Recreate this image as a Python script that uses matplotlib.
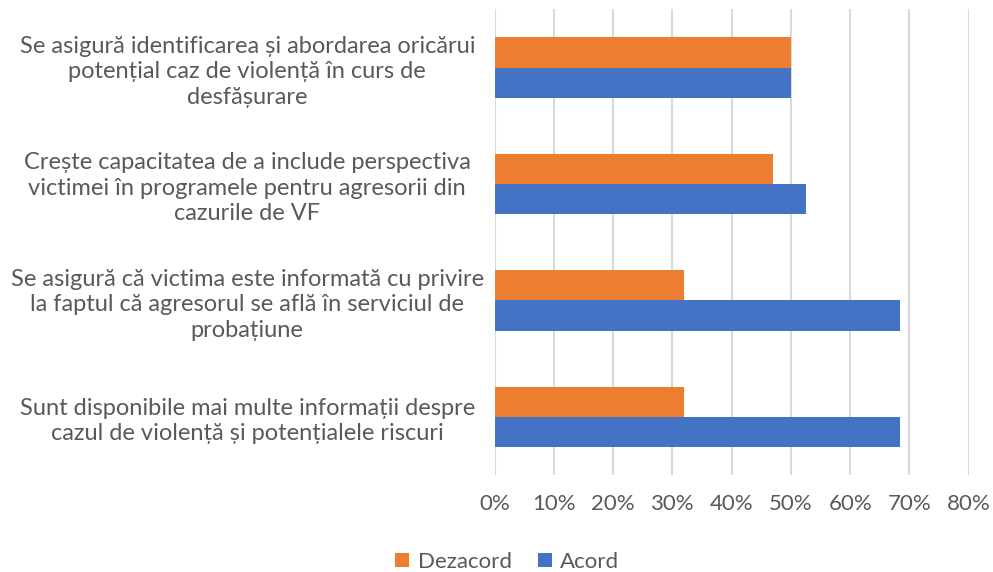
import numpy as np
import matplotlib.pyplot as plt
from matplotlib.ticker import PercentFormatter

categories = [
    'Se asigură identificarea și abordarea oricărui\npotențial caz de violență în curs de\ndesfășurare',
    'Crește capacitatea de a include perspectiva\nvictimei în programele pentru agresorii din\ncazurile de VF',
    'Se asigură că victima este informată cu privire\nla faptul că agresorul se află în serviciul de\nprobațiune',
    'Sunt disponibile mai multe informații despre\ncazul de violență și potențialele riscuri',
]
dezacord = [50.0, 47.0, 32.0, 32.0]
acord = [50.0, 52.5, 68.4, 68.4]
xticks = [0, 10, 20, 30, 40, 50, 60, 70, 80]

plt.rcParams['font.family'] = ['Lato', 'DejaVu Sans']
txt = '#595959'

fig = plt.figure(figsize=(9.93, 5.72), dpi=100)
ax = fig.add_axes([0.498, 0.1696, 0.4775, 0.8138])

y = np.arange(len(categories))
h = 0.26
ax.barh(y - h / 2, dezacord, height=h, color='#ED7D31', label='Dezacord', zorder=3)
ax.barh(y + h / 2, acord, height=h, color='#4472C4', label='Acord', zorder=3)

ax.set_xlim(0, 80)
ax.set_ylim(len(categories) - 0.5, -0.5)
ax.set_xticks(xticks)
ax.xaxis.set_major_formatter(PercentFormatter(decimals=0))
ax.grid(axis='x', color='#d9d9d9', linewidth=1.5, zorder=0)
for s in ax.spines.values():
    s.set_visible(False)

ax.set_yticks(y)
ax.set_yticklabels(categories, fontsize=17, color=txt, linespacing=1.27)
for lab in ax.get_yticklabels():
    lab.set_horizontalalignment('center')
    lab.set_multialignment('center')
ax.tick_params(axis='y', length=0, pad=178)
ax.tick_params(axis='x', length=0, pad=14, labelsize=16, labelcolor=txt)

fig.legend(loc='lower center', bbox_to_anchor=(0.511, -0.035), ncol=2, frameon=False,
           fontsize=16, labelcolor=txt, handlelength=0.6, handleheight=0.6,
           columnspacing=1.2, handletextpad=0.4)

fig.savefig('out.png', dpi=100)
